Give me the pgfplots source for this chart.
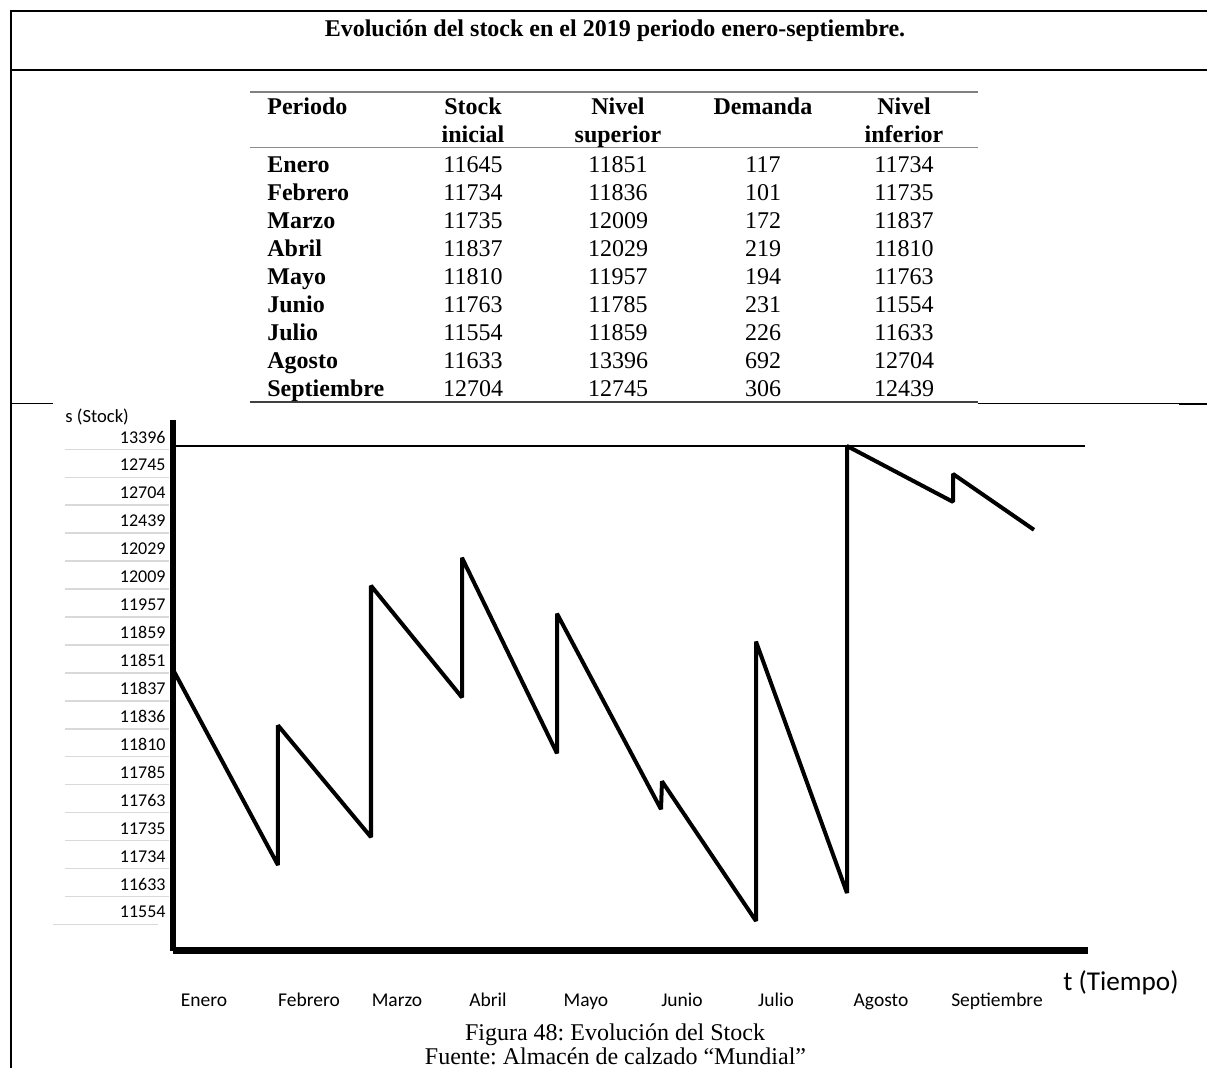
\documentclass[border=0pt]{standalone}
\usepackage{fontspec}
\setmainfont{Liberation Serif}
\newfontfamily\calibri{Carlito}
\usepackage{pgfplots}
\pgfplotsset{compat=1.18}
\frenchspacing

\begin{document}
\begin{tikzpicture}
\path[use as bounding box, clip] (0,0) rectangle (603.5pt,-534pt);
\begin{scope}[x=0.5pt,y=-0.5pt]
% frame lines
\draw[line width=1pt] (10,11.5) -- (1207,11.5);
\draw[line width=1pt] (10,70) -- (1207,70);
\draw[line width=1pt] (10.5,11) -- (10.5,1068);
\draw[line width=0.9pt] (10,403.5) -- (53,403.5);
\draw[line width=0.5pt] (978,404) -- (1179,404);
\draw[line width=1.2pt] (1179,404) -- (1207,404);
% title
\node[anchor=base, inner sep=0pt, font=\fontsize{12}{14}\selectfont\bfseries] at (615,36.5) {Evolución del stock en el 2019 periodo enero-septiembre.};
% table rules
\draw[line width=1.2pt, black!50] (250,92) -- (978,92);
\draw[line width=0.6pt, black!45] (250,147.5) -- (978,147.5);
\draw[line width=1pt, black!75] (250,402.5) -- (978,402.5);
% header
\begin{scope}[every node/.style={inner sep=0pt, font=\fontsize{12}{14}\selectfont\bfseries}]
\node[anchor=base west] at (267,115) {Periodo};
\node[anchor=base] at (473,115) {Stock};
\node[anchor=base] at (473,142.5) {inicial};
\node[anchor=base] at (618,115) {Nivel};
\node[anchor=base] at (618,142.5) {superior};
\node[anchor=base] at (763,115) {Demanda};
\node[anchor=base] at (904,115) {Nivel};
\node[anchor=base] at (904,142.5) {inferior};
\end{scope}
% rows
\foreach \name/\a/\b/\c/\d [count=\i from 0] in {Enero/11645/11851/117/11734, Febrero/11734/11836/101/11735, Marzo/11735/12009/172/11837, Abril/11837/12029/219/11810, Mayo/11810/11957/194/11763, Junio/11763/11785/231/11554, Julio/11554/11859/226/11633, Agosto/11633/13396/692/12704, Septiembre/12704/12745/306/12439}{
  \pgfmathsetmacro\yy{172.6+28*\i}
  \node[anchor=base west, inner sep=0pt, font=\fontsize{12}{14}\selectfont\bfseries] at (267,\yy) {\name};
  \node[anchor=base, inner sep=0pt, font=\fontsize{12}{14}\selectfont] at (473,\yy) {\a};
  \node[anchor=base, inner sep=0pt, font=\fontsize{12}{14}\selectfont] at (618,\yy) {\b};
  \node[anchor=base, inner sep=0pt, font=\fontsize{12}{14}\selectfont] at (763,\yy) {\c};
  \node[anchor=base, inner sep=0pt, font=\fontsize{12}{14}\selectfont] at (904,\yy) {\d};
}
% axis titles
\node[anchor=base west, inner sep=0pt, font=\calibri\fontsize{9.3}{11}\selectfont] at (65,423) {s (Stock)};
\node[anchor=base west, inner sep=0pt, font=\calibri\fontsize{13.6}{16}\selectfont] at (1063,991) {t (Tiempo)};
% caption
\node[anchor=base, inner sep=0pt, font=\fontsize{12}{14}\selectfont] at (615,1040.5) {Figura 48: Evolución del Stock};
\node[anchor=base, inner sep=0pt, font=\fontsize{12}{14}\selectfont] at (615.5,1065) {Fuente: Almacén de calzado “Mundial”};
\end{scope}

\begin{axis}[
  at={(86.5pt,-475.5pt)}, anchor=south west,
  scale only axis, width=457.5pt, height=265.5pt,
  xmin=173, xmax=1088, ymin=-1.0737, ymax=17.9306,
  axis x line*=bottom, axis y line*=left,
  axis line style={-},
  x axis line style={line width=3.5pt},
  y axis line style={line width=2.75pt},
  xtick={204,309,397,488,586,682,776,881,997},
  xticklabels={Enero,Febrero,Marzo,Abril,Mayo,Junio,Julio,Agosto,Septiembre},
  ytick={0,...,17},
  yticklabels={11554,11633,11734,11735,11763,11785,11810,11836,11837,11851,11859,11957,12009,12029,12439,12704,12745,13396},
  major tick length=0pt,
  tick style={draw=none},
  xticklabel style={font=\calibri\fontsize{9.75}{11}\selectfont, anchor=base, inner sep=0pt, yshift=-28pt},
  yticklabel style={font=\calibri\fontsize{9}{11}\selectfont, anchor=base east, inner sep=0pt, xshift=-3.5pt, yshift=1.5pt},
  clip=false,
  /pgf/number format/assume math mode=true,
]
\pgfplotsinvokeforeach{1,...,17}{
  \draw[black!15, line width=0.75pt] (axis cs:65,#1-0.12) -- (axis cs:169,#1-0.12);
}
\draw[black!15, line width=0.75pt] (axis cs:53,-0.12) -- (axis cs:158,-0.12);
\addplot[black, line width=0.7pt] coordinates {(173,17) (1085,17)};
\addplot[black, line width=2pt, line join=bevel] coordinates {
  (173,9) (278,2) (278,7) (371,3) (371,12) (462,8) (462,13) (557,6) (557,11)
  (661,4) (662,5) (756,0) (756,10) (847,1) (847,17) (953,15) (953,16) (1034,14)
};
\end{axis}
\end{tikzpicture}
\end{document}
